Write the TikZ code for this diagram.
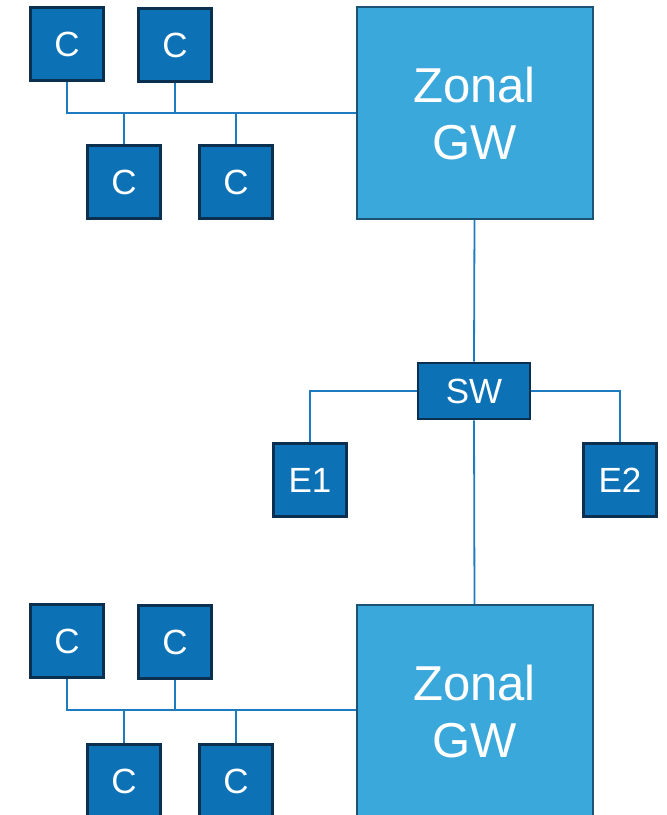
\documentclass[tikz,border=0pt]{standalone}
\usepackage{fontspec}
\setmainfont{Liberation Sans}
\definecolor{cfill}{HTML}{0D72B5}
\definecolor{cedge}{HTML}{0B2F4F}
\definecolor{gwfill}{HTML}{3BA8DC}
\definecolor{gwedge}{HTML}{1B5374}
\definecolor{wire}{HTML}{1F7BC0}
\tikzset{
  x=1pt, y=-1pt,
  ecu/.style={draw=cedge, fill=cfill, line width=2.6pt, minimum width=73pt, minimum height=73pt,
              inner sep=0pt, text=white, font=\fontsize{35}{35}\selectfont},
  swbox/.style={ecu, minimum width=112pt, minimum height=56pt},
  gwbox/.style={draw=gwedge, fill=gwfill, line width=2pt, minimum width=236pt, minimum height=212pt,
                inner sep=0pt, text=white, align=center, font=\fontsize{49}{57}\selectfont},
  wirestyle/.style={draw=wire, line width=1.8pt}
}
\begin{document}
\begin{tikzpicture}
\useasboundingbox (0,0) rectangle (667,815);

% upper zone
\node[gwbox] (gw1) at (474.5,113) {Zonal\\GW};
\node[ecu] (c1) at (67,44) {C};
\node[ecu] (c2) at (175,45) {C};
\node[ecu] (c3) at (124,182) {C};
\node[ecu] (c4) at (236,182) {C};
\coordinate (b1) at (67,113);
\draw[wirestyle] (c1.south) -- (b1) -- (gw1.west);
\draw[wirestyle] (c2.south) -- (c2.south |- b1);
\draw[wirestyle] (c3.north) -- (c3.north |- b1);
\draw[wirestyle] (c4.north) -- (c4.north |- b1);

% switch and endpoints
\node[swbox] (sw) at (474,391) {SW};
\node[ecu] (e1) at (310,480) {E1};
\node[ecu] (e2) at (620,480) {E2};
\draw[wirestyle] (gw1.south) -- (sw.north);
\draw[wirestyle] (sw.west) -| (e1.north);
\draw[wirestyle] (sw.east) -| (e2.north);

% lower zone (runs past the lower edge)
\node[gwbox] (gw2) at (474.5,711) {Zonal\\GW};
\draw[wirestyle] (sw.south) -- (gw2.north);
\node[ecu] (c5) at (67,641) {C};
\node[ecu] (c6) at (175,642) {C};
\node[ecu] (c7) at (124,781) {C};
\node[ecu] (c8) at (236,781) {C};
\coordinate (b2) at (67,710);
\draw[wirestyle] (c5.south) -- (b2) -- (b2 -| gw2.west);
\draw[wirestyle] (c6.south) -- (c6.south |- b2);
\draw[wirestyle] (c7.north) -- (c7.north |- b2);
\draw[wirestyle] (c8.north) -- (c8.north |- b2);
\end{tikzpicture}
\end{document}
